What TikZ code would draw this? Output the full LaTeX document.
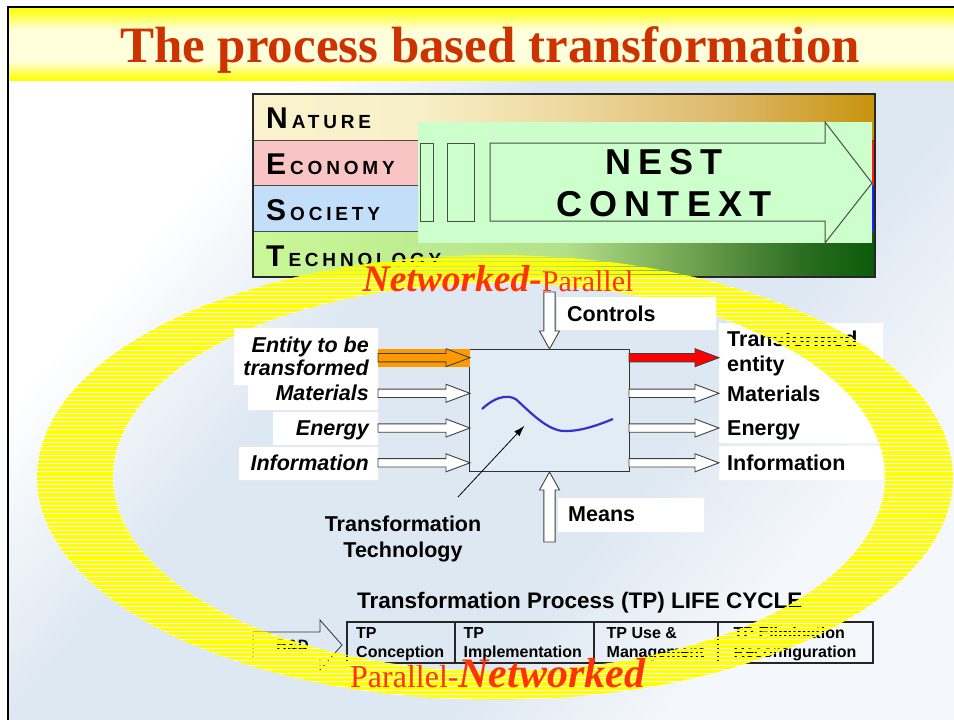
\documentclass[tikz,border=0pt]{standalone}
\usepackage{fontspec}
\setmainfont{Liberation Serif}
\setsansfont{Liberation Sans}
\newfontfamily\spacedsf{Liberation Sans}[LetterSpace=20]
\usetikzlibrary{arrows.meta}

\definecolor{titlered}{RGB}{204,51,0}
\definecolor{netred}{RGB}{255,51,0}
\definecolor{bgblue}{RGB}{222,232,242}
\definecolor{bgpale}{RGB}{244,247,251}
\definecolor{nestgreen}{RGB}{204,255,204}
\definecolor{econL}{RGB}{249,196,196}
\definecolor{socL}{RGB}{194,222,248}
\definecolor{ringyellow}{RGB}{255,255,0}
\definecolor{entorange}{RGB}{255,153,0}
\definecolor{curveblue}{RGB}{51,51,204}
\definecolor{boxblue}{RGB}{226,236,245}

\pgfdeclarehorizontalshading{slidebg}{100bp}{color(0bp)=(white); color(30bp)=(white); color(42bp)=(bgblue); color(62bp)=(bgblue); color(72bp)=(bgpale); color(100bp)=(bgpale)}
\pgfdeclareverticalshading{titleband}{100bp}{color(0bp)=(ringyellow); color(25bp)=(ringyellow); color(38bp)=(ringyellow!14); color(60bp)=(ringyellow!14); color(75bp)=(ringyellow); color(100bp)=(ringyellow)}
\pgfdeclarehorizontalshading{natureshade}{100bp}{color(0bp)=(rgb,255:red,251;green,247;blue,214); color(38bp)=(rgb,255:red,248;green,240;blue,200); color(50bp)=(rgb,255:red,237;green,217;blue,160); color(63bp)=(rgb,255:red,221;green,184;blue,105); color(75bp)=(rgb,255:red,200;green,148;blue,12); color(100bp)=(rgb,255:red,200;green,148;blue,12)}
\pgfdeclarehorizontalshading{econshade}{100bp}{color(0bp)=(econL); color(38bp)=(econL); color(74bp)=(econL!70!red); color(75bp)=(red); color(100bp)=(red)}
\pgfdeclarehorizontalshading{socshade}{100bp}{color(0bp)=(socL); color(38bp)=(socL); color(74bp)=(socL!70!blue); color(75bp)=(blue); color(100bp)=(blue)}
\pgfdeclarehorizontalshading{techshade}{100bp}{color(0bp)=(rgb,255:red,202;green,248;blue,152); color(25bp)=(rgb,255:red,202;green,248;blue,152); color(50bp)=(rgb,255:red,180;green,224;blue,138); color(61bp)=(rgb,255:red,106;green,158;blue,75); color(69bp)=(rgb,255:red,45;green,110;blue,34); color(75bp)=(rgb,255:red,10;green,90;blue,10); color(100bp)=(rgb,255:red,10;green,90;blue,10)}

% big first letter, small spaced rest
\newcommand{\nestcap}[2]{{\fontsize{30}{30}\selectfont #1}\hspace{4pt}{\fontsize{19}{19}\selectfont #2}}
% horizontal block arrow: [fill] x start, x tip, y centre
\newcommand{\harrow}[4][white]{\filldraw[flowline, fill=#1] (#2,#4-4.2) -- (#3-24,#4-4.2) -- (#3-24,#4-9) -- (#3,#4) -- (#3-24,#4+9) -- (#3-24,#4+4.2) -- (#2,#4+4.2) -- cycle;}
% vertical block arrow: x, tail y, head base y, tip y
\newcommand{\varrow}[4]{\filldraw[flowline, fill=white] (#1-5.6,#2) -- (#1-5.6,#3) -- (#1-10,#3) -- (#1,#4) -- (#1+10,#3) -- (#1+5.6,#3) -- (#1+5.6,#2) -- cycle;}

\begin{document}
\begin{tikzpicture}[x=1pt,y=-1pt,
    flowline/.style={draw=black!75, line width=0.9pt},
    lbl/.style={font=\sffamily\bfseries\itshape\fontsize{21.5}{25}\selectfont, anchor=base east, inner sep=0pt},
    rlbl/.style={font=\sffamily\bfseries\fontsize{21.5}{25}\selectfont, anchor=base west, inner sep=0pt},
    rowtxt/.style={font=\spacedsf\bfseries, anchor=base west, inner sep=0pt},
    cell/.style={font=\sffamily\bfseries\fontsize{16}{19}\selectfont, anchor=base west, inner sep=0pt}]
    \useasboundingbox (0,0) rectangle (954,720);
    \fill[white] (0,0) rectangle (954,720);
    \shade[shading=slidebg, shading angle=-40] (8,7) rectangle (954,720);
    % title band
    \shade[shading=titleband] (8,8) rectangle (954,80);
    \draw[black, line width=2pt] (8,720) -- (8,7) -- (954,7);
    \node[font=\bfseries\fontsize{51}{55}\selectfont, text=titlered, anchor=base, inner sep=0pt] (title) at (490,62) {The process based transformation};

    % white ground of the ring
    \fill[white, even odd rule] (495,477.5) ellipse [x radius=458pt, y radius=222.5pt] (499,477) ellipse [x radius=386pt, y radius=194pt];

    % nest block
    \shade[shading=natureshade] (253,94) rectangle (875,140);
    \shade[shading=econshade] (253,140) rectangle (875,185);
    \shade[shading=socshade] (253,185) rectangle (875,231);
    \shade[shading=techshade] (253,231) rectangle (875,277);
    \draw[black!70, line width=0.8pt] (253,140) -- (875,140) (253,185) -- (875,185) (253,231) -- (875,231);
    \draw[black!85, line width=1.5pt] (253,94) rectangle (875,277);
    \node[rowtxt] (nature) at (266,128) {\nestcap{N}{ATURE}};
    \node[rowtxt] (economy) at (266,174) {\nestcap{E}{CONOMY}};
    \node[rowtxt] (society) at (266,220) {\nestcap{S}{OCIETY}};
    \node[rowtxt] (technology) at (266,266.5) {\nestcap{T}{ECHNOLOGY}};
    \fill[nestgreen] (418,122) rectangle (872,243);
    \draw[black!70, line width=1pt] (420,143) rectangle (433,221) (447,143) rectangle (474,221);
    \draw[black!70, line width=1pt] (490,143) -- (825,143) -- (825,122) -- (872,183) -- (825,243) -- (825,221) -- (490,221) -- cycle;
    \node[font=\spacedsf\bfseries\fontsize{36}{40}\selectfont, anchor=base, inner sep=0pt] (nest) at (664,174) {NEST};
    \node[font=\spacedsf\bfseries\fontsize{36}{40}\selectfont, anchor=base, inner sep=0pt] (context) at (664,216) {CONTEXT};

    % under the ring
    \fill[white] (719,323) rectangle (883,380) (719,380) rectangle (876,443) (719,446) rectangle (883,480);
    \node[rlbl] (outtrans) at (727,346.5) {Transformed};
    \node[rlbl] (outentity) at (727,371) {entity};
    \node[rlbl] (outmat) at (727,401.5) {Materials};
    \node[rlbl] (outenergy) at (727,435) {Energy};
    \node[rlbl] (outinfo) at (727,470) {Information};
    \node[font=\sffamily\bfseries\fontsize{22.5}{26}\selectfont, anchor=base west, inner sep=0pt] (lifecycle) at (357,608) {Transformation Process (TP) LIFE CYCLE};
    \draw[black!85, line width=1.2pt] (347,622) rectangle (873,663) (455,622) -- (455,663) (594,622) -- (594,663) (718,622) -- (718,663);
    \node[cell] (tpa) at (356,638) {TP};
    \node[cell] (tpb) at (356,657) {Conception};
    \node[cell] (tpc) at (463.5,638) {TP};
    \node[cell] (tpd) at (463.5,657) {Implementation};
    \node[cell] (tpe) at (606.5,638) {TP Use \&};
    \node[cell] (tpf) at (606.5,657) {Management};
    \node[cell] (tpg) at (733.5,638) {TP Elimination};
    \node[cell] (tph) at (733.5,657) {Reconfiguration};
    \draw[black!80, line width=0.8pt] (253,632) -- (320,632) -- (320,620) -- (342,645) -- (320,670) -- (320,658) -- (253,658) -- cycle;
    \node[font=\sffamily\bfseries\fontsize{15}{18}\selectfont, anchor=base, inner sep=0pt] (rd) at (292.5,650) {R\&D};

    % the striped ring
    \begin{scope}[even odd rule]
        \clip (495,477.5) ellipse [x radius=458pt, y radius=222.5pt] (499,477) ellipse [x radius=386pt, y radius=194pt];
        \foreach \k in {0,...,107}
            \fill[ringyellow] (30,254+4.2*\k) rectangle (960,257.1+4.2*\k);
    \end{scope}

    % transformation process
    \node[draw=black!80, line width=1pt, fill=boxblue, minimum width=160pt, minimum height=122.7pt, inner sep=0pt] (tpbox) at (549.35,410.35) {};
    \draw[curveblue, line width=2.2pt] (482,409) .. controls (497,395) and (512,393) .. (520,403) .. controls (533,415) and (550,432) .. (566,431) .. controls (582,431) and (598,425) .. (613,419);
    \fill[white] (234,328) rectangle (378,385) (248,385) rectangle (378,410) (273,412) rectangle (378,445) (239,447) rectangle (378,480);
    \fill[white] (557,297) rectangle (716,330) (558,498) rectangle (704,532);
    \fill[entorange] (378,349) rectangle (470,367);
    \harrow[entorange]{378}{470}{357.7}
    \harrow{378}{470}{393.3}
    \harrow{378}{470}{428}
    \harrow{378}{470}{462.8}
    \harrow[red]{629}{719}{357.7}
    \harrow{629}{719}{393.3}
    \harrow{629}{719}{428}
    \harrow{629}{719}{462.8}
    \varrow{549.5}{292}{331}{349}
    \varrow{549.5}{542}{490}{472}
    \node[lbl] (inentity) at (369,352) {Entity to be};
    \node[lbl] (intrans) at (369,375.5) {transformed};
    \node[lbl] (inmat) at (369,400.5) {Materials};
    \node[lbl] (inenergy) at (369,435) {Energy};
    \node[lbl] (ininfo) at (369,470) {Information};
    \node[rlbl] (controls) at (567,321) {Controls};
    \node[rlbl] (means) at (568,521.5) {Means};
    \node[rlbl, anchor=base] (techa) at (403,531.5) {Transformation};
    \node[rlbl, anchor=base] (techb) at (403,557) {Technology};
    \coordinate (techfoot) at (458,497);
    \coordinate (techtip) at (524.5,425.7);
    \draw[black, line width=0.8pt, -{Latex[length=11pt, width=7pt]}] (techfoot) -- (techtip);

    % network labels
    \node[anchor=base west, inner sep=0pt, text=netred] (nettop) at (362.5,291.7) {{\bfseries\itshape\fontsize{37.5}{40}\selectfont Networked-}{\fontsize{30}{32}\selectfont Parallel}};
    \node[anchor=base west, inner sep=0pt, text=netred] (netbottom) at (350,687) {{\fontsize{32}{34}\selectfont Parallel-}{\bfseries\itshape\fontsize{42}{44}\selectfont Networked}};
\end{tikzpicture}
\end{document}
